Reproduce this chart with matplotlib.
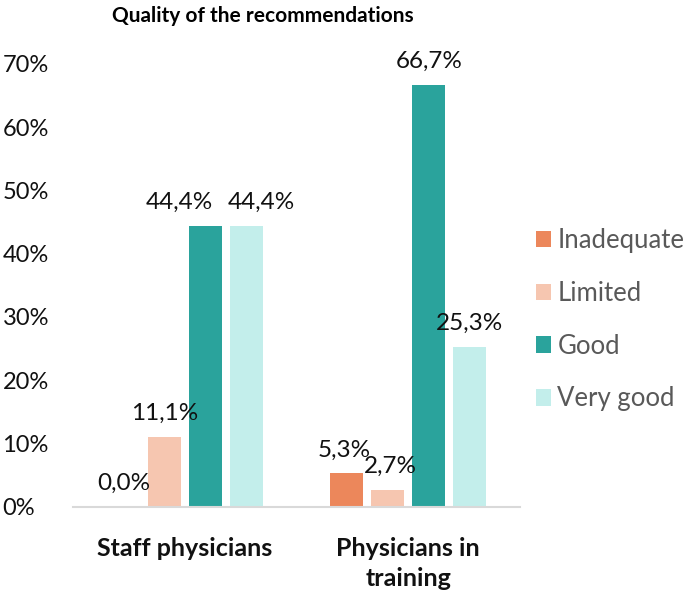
import numpy as np
import matplotlib.pyplot as plt

plt.rcParams['font.family'] = ['Lato', 'DejaVu Sans']

groups = ['Staff physicians', 'Physicians in\ntraining']
ratings = ['Inadequate', 'Limited', 'Good', 'Very good']
values = {
    'Inadequate': [0.0, 5.3],
    'Limited': [11.1, 2.7],
    'Good': [44.4, 66.7],
    'Very good': [44.4, 25.3],
}
colors = ['#EC875B', '#F6C6B0', '#2AA39C', '#C3EEEB']
# small sideways nudges of the value labels (points), as in the original
nudge = {
    'Inadequate': [0, -2],
    'Limited': [0, 2],
    'Good': [-19, 0],
    'Very good': [11, 0],
}

fig = plt.figure(figsize=(6.85, 5.9), dpi=100)
ax = fig.add_axes([0.107, 0.141, 0.652, 0.751])

x = np.arange(len(groups))
w = 0.148
step = 0.183
for i, r in enumerate(ratings):
    pos = x + (i - 1.5) * step
    v = np.array(values[r]) / 100
    ax.bar(pos, v, w, color=colors[i], label=r)
    for px, pv, dx in zip(pos, v, nudge[r]):
        ax.annotate('{:.1f}%'.format(pv * 100).replace('.', ','), (px, pv),
                    xytext=(dx, 9), textcoords='offset points',
                    ha='center', va='bottom', fontsize=17.5, color='#111111')

ax.set_xlim(-0.5, 1.5)
ax.set_ylim(0, 0.7)
ax.set_yticks(np.arange(0, 0.71, 0.1))
ax.set_yticklabels(['{}%'.format(int(round(t * 100))) for t in np.arange(0, 0.71, 0.1)])
ax.set_xticks(x)
ax.set_xticklabels(groups, fontweight='bold', fontsize=18, linespacing=1.35)
ax.tick_params(axis='both', length=0, colors='#111111')
ax.tick_params(axis='y', pad=51, labelsize=17)
ax.tick_params(axis='x', pad=22)
for t in ax.get_yticklabels():
    t.set_horizontalalignment('left')
for s in ['top', 'right', 'left']:
    ax.spines[s].set_visible(False)
ax.spines['bottom'].set_color('#D9D9D9')
ax.spines['bottom'].set_linewidth(1.5)

fig.text(0.383, 0.99, 'Quality of the recommendations', ha='center', va='top',
         fontsize=15, fontweight='bold')

leg = fig.legend(loc='center left', bbox_to_anchor=(0.748, 0.458), frameon=False,
                 fontsize=18.5, labelspacing=1.08, handlelength=0.6, handleheight=0.6,
                 handletextpad=0.25)
for t in leg.get_texts():
    t.set_color('#595959')

fig.savefig('out.png')
